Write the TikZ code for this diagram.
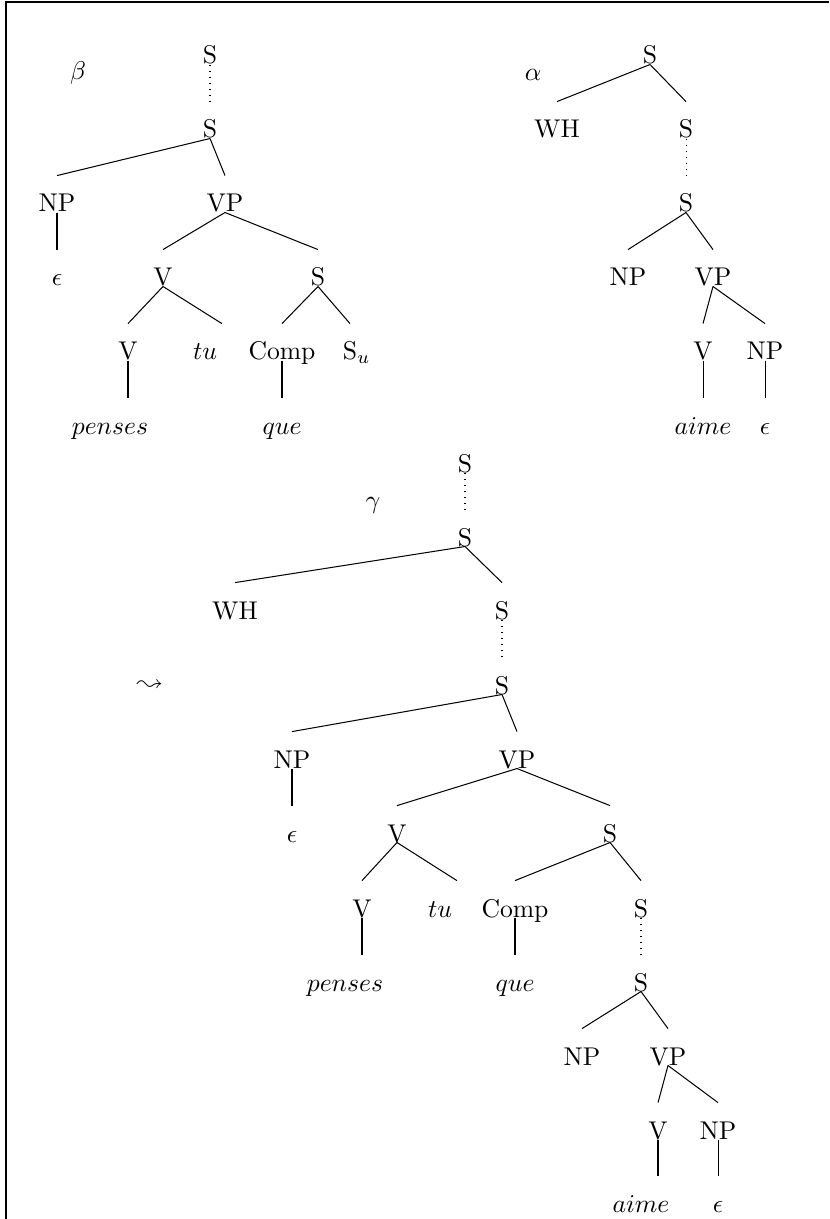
\documentclass[tikz,border=0pt]{standalone}
\usepackage{latexsym}
\usepackage{tikz}
\usetikzlibrary{calc}
\tikzset{
	cat/.style={inner sep=0pt, text height=14pt, text depth=0pt, anchor=base},
	lbl/.style={inner sep=0pt},
	frameline/.style={line width=0.9pt}
}

\begin{document}
\begin{tikzpicture}[x=0.39pt, y=-0.39pt]
			%%%%% START %%%%%
			\useasboundingbox (0, 0) rectangle (829, 1219);
			\draw[frameline] (6, 1219) -- (6, 2) -- (829, 2);
			
			%%%%% beta %%%%%
			\node[lbl] (beta) at (78, 73) {$\beta$};
			\node[cat] (bS0) at (210, 64) {S};
			\node[cat] (bS1) at (210, 138) {S};
			\node[cat] (bNP) at (57, 212) {NP};
			\node[cat] (bVP) at (225, 212) {VP};
			\node[cat] (bE) at (57, 286) {$\epsilon$};
			\node[cat] (bV) at (163, 286) {V};
			\node[cat] (bS2) at (318, 286) {S};
			\node[cat] (bV1) at (128, 360) {V};
			\node[cat] (btu) at (205, 360) {$tu$};
			\node[cat] (bComp) at (282, 360) {Comp};
			\node[cat] (bSu) at (350, 360) {S\rlap{$_u$}};
			\node[cat] (bpenses) at (110, 434) {$penses$};
			\node[cat] (bque) at (282, 434) {$que$};
			
			\draw[dotted] (bS0.south) -- (bS1.north);
			\draw (bS1.south) -- (bNP.north);
			\draw (bS1.south) -- (bVP.north);
			\draw (bNP.south) -- (bE.north);
			\draw (bVP.south) -- (bV.north);
			\draw (bVP.south) -- (bS2.north);
			\draw (bV.south) -- (bV1.north);
			\draw (bV.south) -- ([xshift=6.6pt]btu.north);
			\draw (bS2.south) -- (bComp.north);
			\draw (bS2.south) -- (bSu.north);
			\draw (bV1.south) -- (bV1.south |- bpenses.north);
			\draw (bComp.south) -- (bque.north);
			
			%%%%% alpha %%%%%
			\node[lbl] (alpha) at (533, 75) {$\alpha$};
			\node[cat] (aS0) at (650, 64) {S};
			\node[cat] (aWH) at (557, 138) {WH};
			\node[cat] (aS1) at (686, 138) {S};
			\node[cat] (aS2) at (686, 212) {S};
			\node[cat] (aNP) at (628, 286) {NP};
			\node[cat] (aVP) at (713, 286) {VP};
			\node[cat] (aV) at (703, 360) {V};
			\node[cat] (aNP1) at (765, 360) {NP};
			\node[cat] (aaime) at (703, 434) {$aime$};
			\node[cat] (aE) at (765, 434) {$\epsilon$};
			
			\draw (aS0.south) -- (aWH.north);
			\draw (aS0.south) -- (aS1.north);
			\draw[dotted] (aS1.south) -- (aS2.north);
			\draw (aS2.south) -- (aNP.north);
			\draw (aS2.south) -- (aVP.north);
			\draw (aVP.south) -- (aV.north);
			\draw (aVP.south) -- (aNP1.north);
			\draw (aV.south) -- (aaime.north);
			\draw (aNP1.south) -- (aE.north);
			
			%%%%% gamma %%%%%
			\node[lbl] (arrow) at (150, 686) {$\leadsto$};
			\node[lbl] (gamma) at (373, 505) {$\gamma$};
			\node[cat] (gS0) at (465, 472) {S};
			\node[cat] (gS1) at (465, 546) {S};
			\node[cat] (gWH) at (235, 619) {WH};
			\node[cat] (gS2) at (502, 619) {S};
			\node[cat] (gS3) at (502, 694) {S};
			\node[cat] (gNP) at (292, 768) {NP};
			\node[cat] (gVP) at (517, 768) {VP};
			\node[cat] (gE) at (292, 842) {$\epsilon$};
			\node[cat] (gV) at (397, 842) {V};
			\node[cat] (gS4) at (610, 842) {S};
			\node[cat] (gV1) at (362, 917) {V};
			\node[cat] (gtu) at (440, 917) {$tu$};
			\node[cat] (gComp) at (515, 917) {Comp};
			\node[cat] (gS5) at (641, 917) {S};
			\node[cat] (gpenses) at (345, 991) {$penses$};
			\node[cat] (gque) at (515, 991) {$que$};
			\node[cat] (gS6) at (641, 991) {S};
			\node[cat] (gNP2) at (582, 1065) {NP};
			\node[cat] (gVP2) at (668, 1065) {VP};
			\node[cat] (gV2) at (658, 1139) {V};
			\node[cat] (gNP3) at (718, 1139) {NP};
			\node[cat] (gaime) at (641, 1212) {$aime$};
			\node[cat] (gE2) at (718, 1212) {$\epsilon$};
			
			\draw[dotted] (gS0.south) -- (gS1.north);
			\draw (gS1.south) -- (gWH.north);
			\draw (gS1.south) -- (gS2.north);
			\draw[dotted] (gS2.south) -- (gS3.north);
			\draw (gS3.south) -- (gNP.north);
			\draw (gS3.south) -- (gVP.north);
			\draw (gNP.south) -- (gE.north);
			\draw (gVP.south) -- (gV.north);
			\draw (gVP.south) -- (gS4.north);
			\draw (gV.south) -- (gV1.north);
			\draw (gV.south) -- ([xshift=6.6pt]gtu.north);
			\draw (gS4.south) -- (gComp.north);
			\draw (gS4.south) -- (gS5.north);
			\draw (gV1.south) -- (gV1.south |- gpenses.north);
			\draw (gComp.south) -- (gque.north);
			\draw[dotted] (gS5.south) -- (gS6.north);
			\draw (gS6.south) -- (gNP2.north);
			\draw (gS6.south) -- (gVP2.north);
			\draw (gVP2.south) -- (gV2.north);
			\draw (gVP2.south) -- (gNP3.north);
			\draw (gV2.south) -- (gV2.south |- gaime.north);
			\draw (gNP3.south) -- (gE2.north);
			
			%%%%% END %%%%%
\end{tikzpicture}
\end{document}
